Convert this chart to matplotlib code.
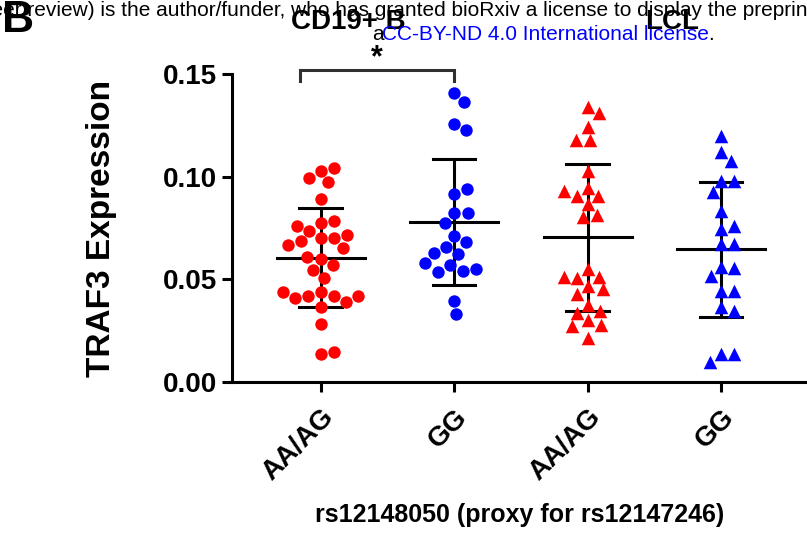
import numpy as np
import matplotlib.pyplot as plt

plt.rcParams['font.family'] = ['Liberation Sans', 'DejaVu Sans']

## data
groups = ['AA/AG', 'GG', 'AA/AG', 'GG']
cd19_aa_ag = [0.1029, 0.1041, 0.0994, 0.0973, 0.0890, 0.0773, 0.0786, 0.0737,
              0.0760, 0.0701, 0.0701, 0.0714, 0.0685, 0.0651, 0.0666, 0.0599,
              0.0607, 0.0568, 0.0544, 0.0505, 0.0440, 0.0420, 0.0416, 0.0391,
              0.0408, 0.0416, 0.0440, 0.0364, 0.0283, 0.0136, 0.0143]
cd19_gg = [0.1411, 0.1365, 0.1257, 0.1229, 0.0916, 0.0939, 0.0822, 0.0823,
           0.0773, 0.0713, 0.0680, 0.0659, 0.0623, 0.0628, 0.0568, 0.0542,
           0.0537, 0.0549, 0.0580, 0.0396, 0.0331]
lcl_aa_ag = [0.1341, 0.1309, 0.1244, 0.1179, 0.1179, 0.1028, 0.0946, 0.0907,
             0.0906, 0.0930, 0.0867, 0.0805, 0.0813, 0.0549, 0.0513, 0.0508,
             0.0513, 0.0469, 0.0451, 0.0427, 0.0375, 0.0346, 0.0335, 0.0302,
             0.0278, 0.0273, 0.0213]
lcl_gg = [0.1200, 0.1119, 0.1076, 0.0981, 0.0981, 0.0927, 0.0833, 0.0747,
          0.0760, 0.0671, 0.0672, 0.0562, 0.0557, 0.0516, 0.0445, 0.0445,
          0.0364, 0.0347, 0.0133, 0.0133, 0.0094]
series = [cd19_aa_ag, cd19_gg, lcl_aa_ag, lcl_gg]
colors = ['#ff0000', '#0000ff', '#ff0000', '#0000ff']
markers = ['o', 'o', '^', '^']


def swarm(ax, xc, vals, diam):
    ## simple beeswarm in pixel space, closest-to-centre placement
    pts = ax.transData.transform(np.column_stack([np.full(len(vals), xc), vals]))
    x0 = pts[0, 0]
    placed = []
    xs = []
    for y in pts[:, 1]:
        cands = [0.0]
        for px, py in placed:
            dy = y - py
            if abs(dy) < diam:
                dx = np.sqrt(diam ** 2 - dy ** 2)
                cands += [px + dx, px - dx]
        cands.sort(key=abs)
        for c in cands:
            if all((c - px) ** 2 + (y - py) ** 2 >= diam ** 2 - 1e-6 for px, py in placed):
                break
        placed.append((c, y))
        xs.append(x0 + c)
    back = ax.transData.inverted().transform(np.column_stack([xs, pts[:, 1]]))
    return back[:, 0]


fig = plt.figure(figsize=(8.07, 5.35), dpi=100)
ax = fig.add_axes([232 / 807, 1 - 381.7 / 535, 1 - 232 / 807, (381.7 - 74.3) / 535])
ax.set_xlim(-0.665, 3.645)
ax.set_ylim(0, 0.15)

for i, vals in enumerate(series):
    vals = np.array(vals)
    xs = swarm(ax, i, vals, 13.5)
    ax.scatter(xs, vals, s=80 if markers[i] == 'o' else 95, marker=markers[i],
               color=colors[i], linewidths=0, zorder=3, clip_on=False)
    m = vals.mean()
    sd = vals.std(ddof=1)
    ax.plot([i - 0.33, i + 0.33], [m, m], color='black', lw=2.2, zorder=2)
    ax.plot([i, i], [m - sd, m + sd], color='black', lw=2.2, zorder=2)
    ax.plot([i - 0.16, i + 0.16], [m + sd, m + sd], color='black', lw=2.2, zorder=2)
    ax.plot([i - 0.16, i + 0.16], [m - sd, m - sd], color='black', lw=2.2, zorder=2)

## axes styling
for s in ['top', 'right']:
    ax.spines[s].set_visible(False)
for s in ['left', 'bottom']:
    ax.spines[s].set_linewidth(2.2)
ax.set_yticks([0, 0.05, 0.10, 0.15])
ax.set_yticklabels(['0.00', '0.05', '0.10', '0.15'], fontsize=20, fontweight='bold')
ax.set_xticks(range(4))
ax.set_xticklabels(groups, fontsize=20, fontweight='bold', rotation=45,
                   ha='right', va='top', rotation_mode='anchor')
ax.tick_params(axis='both', length=7, width=2.2, direction='out')
ax.tick_params(axis='y', pad=3.5)
ax.tick_params(axis='x', pad=9)
ax.set_ylabel('TRAF3 Expression', fontsize=24, fontweight='bold')
ax.yaxis.set_label_coords(-0.2, 0.5)
fig.text(520 / 807, 1 - 515 / 535, 'rs12148050 (proxy for rs12147246)',
         fontsize=18, fontweight='bold', ha='center', va='center')

## significance bracket
ax.plot([-0.155, -0.155, 1.0, 1.0], [0.1468, 0.1521, 0.1521, 0.1468], color='#303030',
        lw=2.2, clip_on=False, solid_joinstyle='miter')
fig.text(377 / 807, 1 - 58 / 535, '*', fontsize=22, fontweight='bold', ha='center', va='center')

## header texts
fig.text(-20 / 807, 1 - 11 / 535,
         'peer review) is the author/funder, who has granted bioRxiv a license to display the preprint in perpetuity. It is made',
         fontsize=15, ha='left', va='center', color='black')
fig.text(30 / 807, 1 + 12 / 535,
         'bioRxiv preprint doi: https://doi.org/10.1101/2020.04.16.045237; this version posted April 18, 2020.',
         fontsize=15, ha='left', va='center', color='#0000ff')
fig.text(2 / 807, 1 - 20 / 535, 'B', fontsize=32, fontweight='heavy', ha='left', va='center')
fig.text(348 / 807, 1 - 22 / 535, 'CD19+ B', fontsize=20, fontweight='bold', ha='center', va='center')
fig.text(672 / 807, 1 - 22 / 535, 'LCL', fontsize=20, fontweight='bold', ha='center', va='center')
fig.text(372 / 807, 1 - 35 / 535, 'a', fontsize=15, ha='left', va='center', color='black')
fig.text(382 / 807, 1 - 35 / 535, 'CC-BY-ND 4.0 International license', fontsize=15,
         ha='left', va='center', color='#0000ff')
fig.text(708 / 807, 1 - 35 / 535, '.', fontsize=15, ha='left', va='center', color='black')

plt.savefig('out.png', dpi=100)
